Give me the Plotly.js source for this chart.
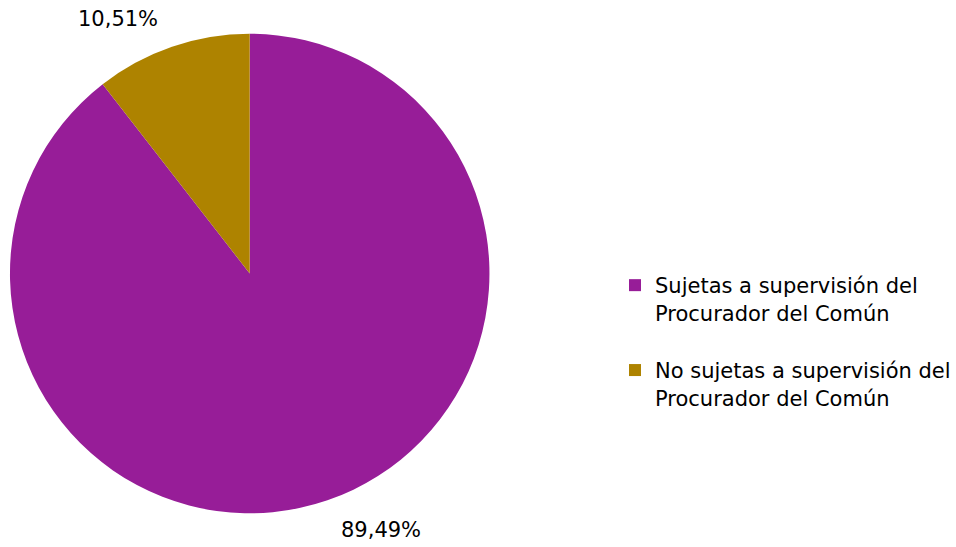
<!DOCTYPE html>
<html>
<head>
<meta charset="utf-8">
<script src="https://cdn.plot.ly/plotly-3.0.1.min.js"></script>
<style>html,body{margin:0;padding:0;background:#fff;}#chart{width:956px;height:547px;}</style>
</head>
<body>
<div id="chart"></div>
<script>
var categories = ["Sujetas a supervisión del<br>Procurador del Común", "No sujetas a supervisión del<br>Procurador del Común"];
var values = [89.49, 10.51];
var valueLabels = ["89,49%", "10,51%"];
var colors = ["#971D98", "#AE8300"];

var W = 956, H = 547;
var FONT = "DejaVu Sans";
// legend labels: extra blank line after the first entry to space items like the reference
var legendLabels = categories.map(function (c, i) { return i < categories.length - 1 ? c + "<br>&nbsp;" : c; });

var trace = {
  type: "pie",
  labels: legendLabels,
  values: values,
  textinfo: "none",
  sort: false,
  direction: "clockwise",
  rotation: 0,
  marker: {colors: colors, line: {width: 0}},
  domain: {x: [10 / W, 491 / W], y: [1 - 514 / H, 1 - 33 / H]},
  hoverinfo: "none"
};
var labelPos = [[382, 530], [118, 19]];
var annotations = valueLabels.map(function (t, i) {
  return {
    text: t, showarrow: false, xref: "paper", yref: "paper",
    x: labelPos[i][0] / W, y: 1 - labelPos[i][1] / H,
    xanchor: "center", yanchor: "middle",
    font: {family: FONT, size: 21, color: "#000"}
  };
});
var layout = {
  width: W, height: H,
  margin: {l: 0, r: 0, t: 0, b: 0},
  paper_bgcolor: "#fff",
  showlegend: true,
  annotations: annotations,
  legend: {
    x: 617 / W, y: 1 - 265 / H, xanchor: "left", yanchor: "top",
    valign: "top",
    font: {family: FONT, size: 21, color: "#000"},
    itemwidth: 30, tracegroupgap: 0
  },
  font: {family: FONT}
};
Plotly.newPlot("chart", [trace], layout, {displayModeBar: false, staticPlot: true});
</script>
</body>
</html>
